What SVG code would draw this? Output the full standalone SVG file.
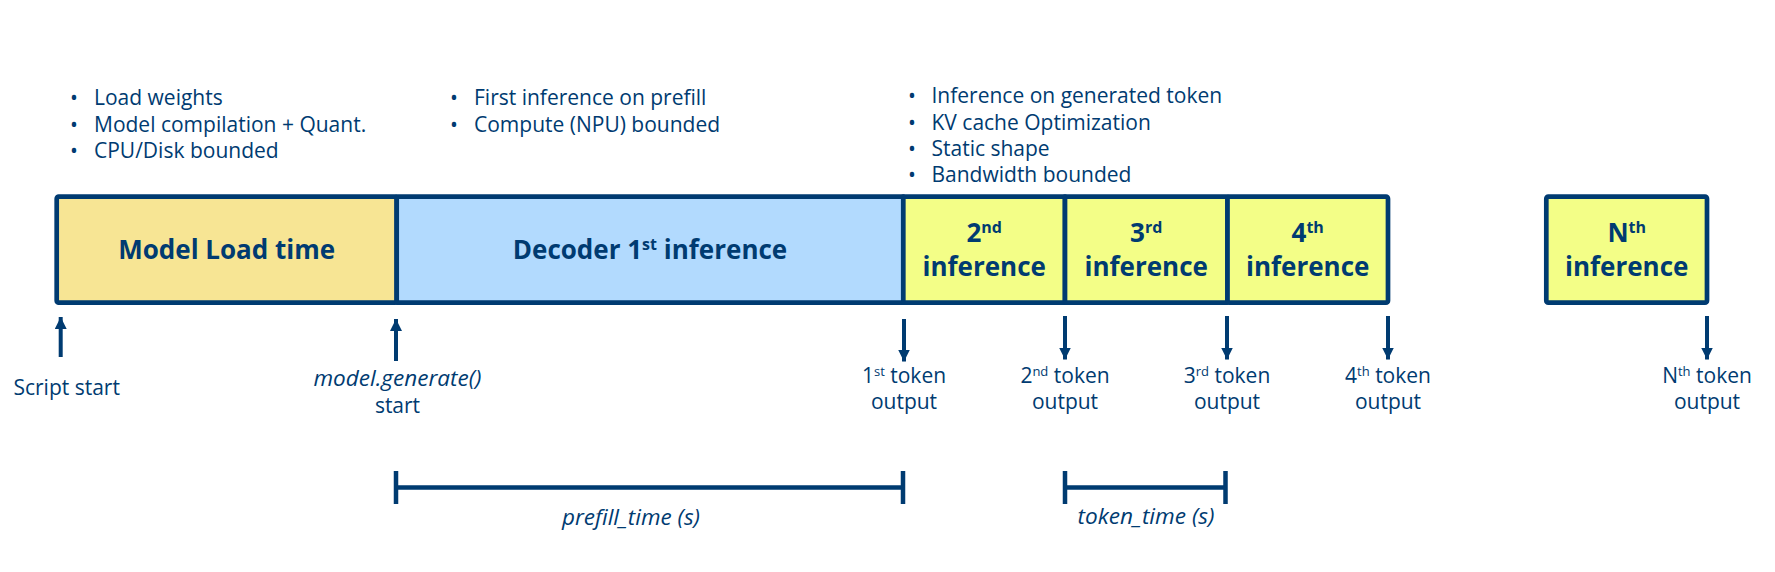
<svg xmlns="http://www.w3.org/2000/svg" width="1775" height="572" viewBox="0 0 1775 572">
<defs>
<style>
text{font-family:"Open Sans","Noto Sans","Liberation Sans",sans-serif;fill:#003B71}
.t{font-size:21px}
.b{font-size:26px;font-weight:bold}
.i{font-size:22px;font-style:italic}
.box{stroke:#003B71;stroke-width:4.7;stroke-linejoin:round}
.load{fill:#F7E594}
.dec{fill:#B2DAFE}
.inf{fill:#F3FE87}
.ln{stroke:#003B71;stroke-width:4;fill:none}
.bar{stroke:#003B71;stroke-width:4.5;fill:none}
</style>
<marker id="ah" viewBox="0 0 12 12" refX="12" refY="6" markerWidth="12" markerHeight="12" markerUnits="userSpaceOnUse" orient="auto">
<path d="M0,0 L12,6 L0,12 Z" fill="#003B71"/>
</marker>
</defs>
<rect width="1775" height="572" fill="#FFFFFF"/>

<g id="notes-load">
<text class="t" x="70" y="105">•</text><text class="t" x="94" y="105">Load weights</text>
<text class="t" x="70" y="131.5">•</text><text class="t" x="94" y="131.5">Model compilation + Quant.</text>
<text class="t" x="70" y="158">•</text><text class="t" x="94" y="158">CPU/Disk bounded</text>
</g>
<g id="notes-prefill">
<text class="t" x="450" y="105">•</text><text class="t" x="474" y="105">First inference on prefill</text>
<text class="t" x="450" y="131.5">•</text><text class="t" x="474" y="131.5">Compute (NPU) bounded</text>
</g>
<g id="notes-token">
<text class="t" x="908" y="103">•</text><text class="t" x="931.5" y="103">Inference on generated token</text>
<text class="t" x="908" y="129.5">•</text><text class="t" x="931.5" y="129.5">KV cache Optimization</text>
<text class="t" x="908" y="156">•</text><text class="t" x="931.5" y="156">Static shape</text>
<text class="t" x="908" y="182">•</text><text class="t" x="931.5" y="182">Bandwidth bounded</text>
</g>

<g id="model-load">
<rect class="box load" x="56.7" y="196.7" width="340" height="106" rx="2"/>
<text class="b" x="226.7" y="258.5" text-anchor="middle">Model Load time</text>
</g>
<g id="decoder-1st">
<rect class="box dec" x="396.7" y="196.7" width="506.6" height="106"/>
<text class="b" x="650" y="258.5" text-anchor="middle">Decoder 1<tspan font-size="16" dy="-9">st</tspan><tspan dy="9"> inference</tspan></text>
</g>
<g id="inference-2">
<rect class="box inf" x="903.3" y="196.7" width="161.7" height="106"/>
<text class="b" x="984.2" y="242.3" text-anchor="middle">2<tspan font-size="16" dy="-9">nd</tspan></text>
<text class="b" x="984.2" y="275.5" text-anchor="middle">inference</text>
</g>
<g id="inference-3">
<rect class="box inf" x="1065" y="196.7" width="162.5" height="106"/>
<text class="b" x="1146.2" y="242.3" text-anchor="middle">3<tspan font-size="16" dy="-9">rd</tspan></text>
<text class="b" x="1146.2" y="275.5" text-anchor="middle">inference</text>
</g>
<g id="inference-4">
<rect class="box inf" x="1227.5" y="196.7" width="160.5" height="106" rx="2"/>
<text class="b" x="1307.7" y="242.3" text-anchor="middle">4<tspan font-size="16" dy="-9">th</tspan></text>
<text class="b" x="1307.7" y="275.5" text-anchor="middle">inference</text>
</g>
<g id="inference-n">
<rect class="box inf" x="1546.3" y="196.7" width="160.7" height="106" rx="2"/>
<text class="b" x="1626.7" y="241.7" text-anchor="middle">N<tspan font-size="16" dy="-9">th</tspan></text>
<text class="b" x="1626.7" y="275.5" text-anchor="middle">inference</text>
</g>

<g id="connectors">
<line class="ln" x1="60.7" y1="357" x2="60.7" y2="317" marker-end="url(#ah)"/>
<line class="ln" x1="396" y1="361" x2="396" y2="319" marker-end="url(#ah)"/>
<line class="ln" x1="904" y1="319" x2="904" y2="361.5" marker-end="url(#ah)"/>
<line class="ln" x1="1065" y1="316" x2="1065" y2="359.5" marker-end="url(#ah)"/>
<line class="ln" x1="1227" y1="316" x2="1227" y2="359.5" marker-end="url(#ah)"/>
<line class="ln" x1="1388" y1="316" x2="1388" y2="359.5" marker-end="url(#ah)"/>
<line class="ln" x1="1707" y1="316" x2="1707" y2="359.5" marker-end="url(#ah)"/>
<path class="bar" d="M396,471 V504 M396,487.5 H903 M903,471 V504"/>
<path class="bar" d="M1065,471 V504 M1065,487.5 H1225.5 M1225.5,471 V504"/>
</g>

<g id="labels">
<text class="t" x="66.7" y="395" text-anchor="middle">Script start</text>
<text class="i" x="397.5" y="386" text-anchor="middle" textLength="168" lengthAdjust="spacingAndGlyphs">model.generate()</text>
<text class="t" x="397.5" y="412.7" text-anchor="middle">start</text>
<text class="t" x="904" y="383.3" text-anchor="middle">1<tspan font-size="13" dy="-7">st</tspan><tspan dy="7"> token</tspan></text>
<text class="t" x="904" y="409.3" text-anchor="middle">output</text>
<text class="t" x="1065" y="383.3" text-anchor="middle">2<tspan font-size="13" dy="-7">nd</tspan><tspan dy="7"> token</tspan></text>
<text class="t" x="1065" y="409.3" text-anchor="middle">output</text>
<text class="t" x="1227" y="383.3" text-anchor="middle">3<tspan font-size="13" dy="-7">rd</tspan><tspan dy="7"> token</tspan></text>
<text class="t" x="1227" y="409.3" text-anchor="middle">output</text>
<text class="t" x="1388" y="383.3" text-anchor="middle">4<tspan font-size="13" dy="-7">th</tspan><tspan dy="7"> token</tspan></text>
<text class="t" x="1388" y="409.3" text-anchor="middle">output</text>
<text class="t" x="1707" y="383.3" text-anchor="middle">N<tspan font-size="13" dy="-7">th</tspan><tspan dy="7"> token</tspan></text>
<text class="t" x="1707" y="409.3" text-anchor="middle">output</text>
<text class="i" x="631" y="525" text-anchor="middle" textLength="138" lengthAdjust="spacingAndGlyphs">prefill_time (s)</text>
<text class="i" x="1146" y="524.3" text-anchor="middle" textLength="137" lengthAdjust="spacingAndGlyphs">token_time (s)</text>
</g>
</svg>
